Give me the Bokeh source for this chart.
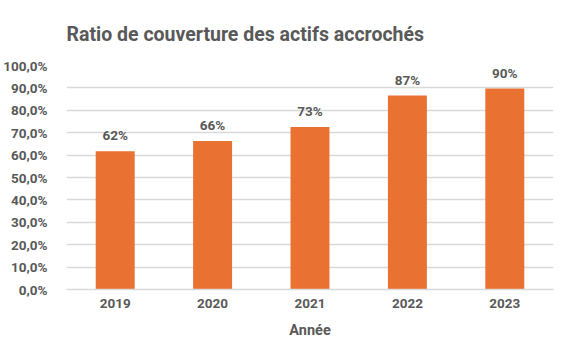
from bokeh.plotting import figure
from bokeh.models import ColumnDataSource, FixedTicker, Title
from bokeh.core.properties import value
from bokeh.embed import file_html
from bokeh.resources import INLINE

years = ["2019", "2020", "2021", "2022", "2023"]
ratios = [0.617, 0.663, 0.726, 0.866, 0.897]
labels = ["62%", "66%", "73%", "87%", "90%"]
y_ticks = [0.0, 0.1, 0.2, 0.3, 0.4, 0.5, 0.6, 0.7, 0.8, 0.9, 1.0]
y_tick_labels = ["0,0%", "10,0%", "20,0%", "30,0%", "40,0%", "50,0%",
                 "60,0%", "70,0%", "80,0%", "90,0%", "100,0%"]

FONT = "Roboto"
GRAY = "#595959"
ORANGE = "#E97132"
GRID = "#D9D9D9"

src = ColumnDataSource(dict(year=years, ratio=ratios, label=labels))

p = figure(x_range=years, y_range=(0, 1.0), width=571, height=351,
           output_backend="svg", toolbar_location=None,
           min_border_left=66, min_border_right=18,
           min_border_top=65, min_border_bottom=62)
p.title = None
p.add_layout(Title(text="Ratio de couverture des actifs accrochés",
                   text_font=FONT, text_font_size="19.5px", text_font_style="bold",
                   text_color=GRAY, align="left", offset=0, standoff=39), "above")
p.outline_line_color = None
p.background_fill_color = "white"
p.border_fill_color = "white"

p.vbar(x="year", top="ratio", width=0.4, source=src, color=ORANGE, line_color=None)
p.text(x="year", y="ratio", text="label", source=src, y_offset=-8,
       text_align="center", text_baseline="bottom",
       text_font=value(FONT), text_font_size="13.5px", text_font_style="bold",
       text_color=GRAY)

p.xgrid.grid_line_color = None
p.ygrid.grid_line_color = GRID
p.ygrid.grid_line_width = 1.3
p.yaxis.ticker = FixedTicker(ticks=y_ticks)
p.yaxis.major_label_overrides = {t: l for t, l in zip(y_ticks, y_tick_labels)}
p.yaxis.axis_line_color = None
p.yaxis.major_tick_line_color = None
p.yaxis.minor_tick_line_color = None
p.yaxis.major_label_standoff = 13
for ax in (p.xaxis, p.yaxis):
    ax.major_label_text_font = FONT
    ax.major_label_text_font_size = "13.5px"
    ax.major_label_text_font_style = "bold"
    ax.major_label_text_color = GRAY

p.xaxis.axis_line_color = GRID
p.xaxis.axis_line_width = 1.3
p.xaxis.major_tick_line_color = None
p.xaxis.minor_tick_line_color = None
p.xaxis.major_label_standoff = 3
p.xaxis.axis_label = "Année"
p.xaxis.axis_label_text_font = FONT
p.xaxis.axis_label_text_font_size = "14.5px"
p.xaxis.axis_label_text_font_style = "bold"
p.xaxis.axis_label_text_color = GRAY
p.xaxis.axis_label_standoff = 11
p.x_range.range_padding = 0

open("out.html", "w").write(file_html(p, INLINE))
